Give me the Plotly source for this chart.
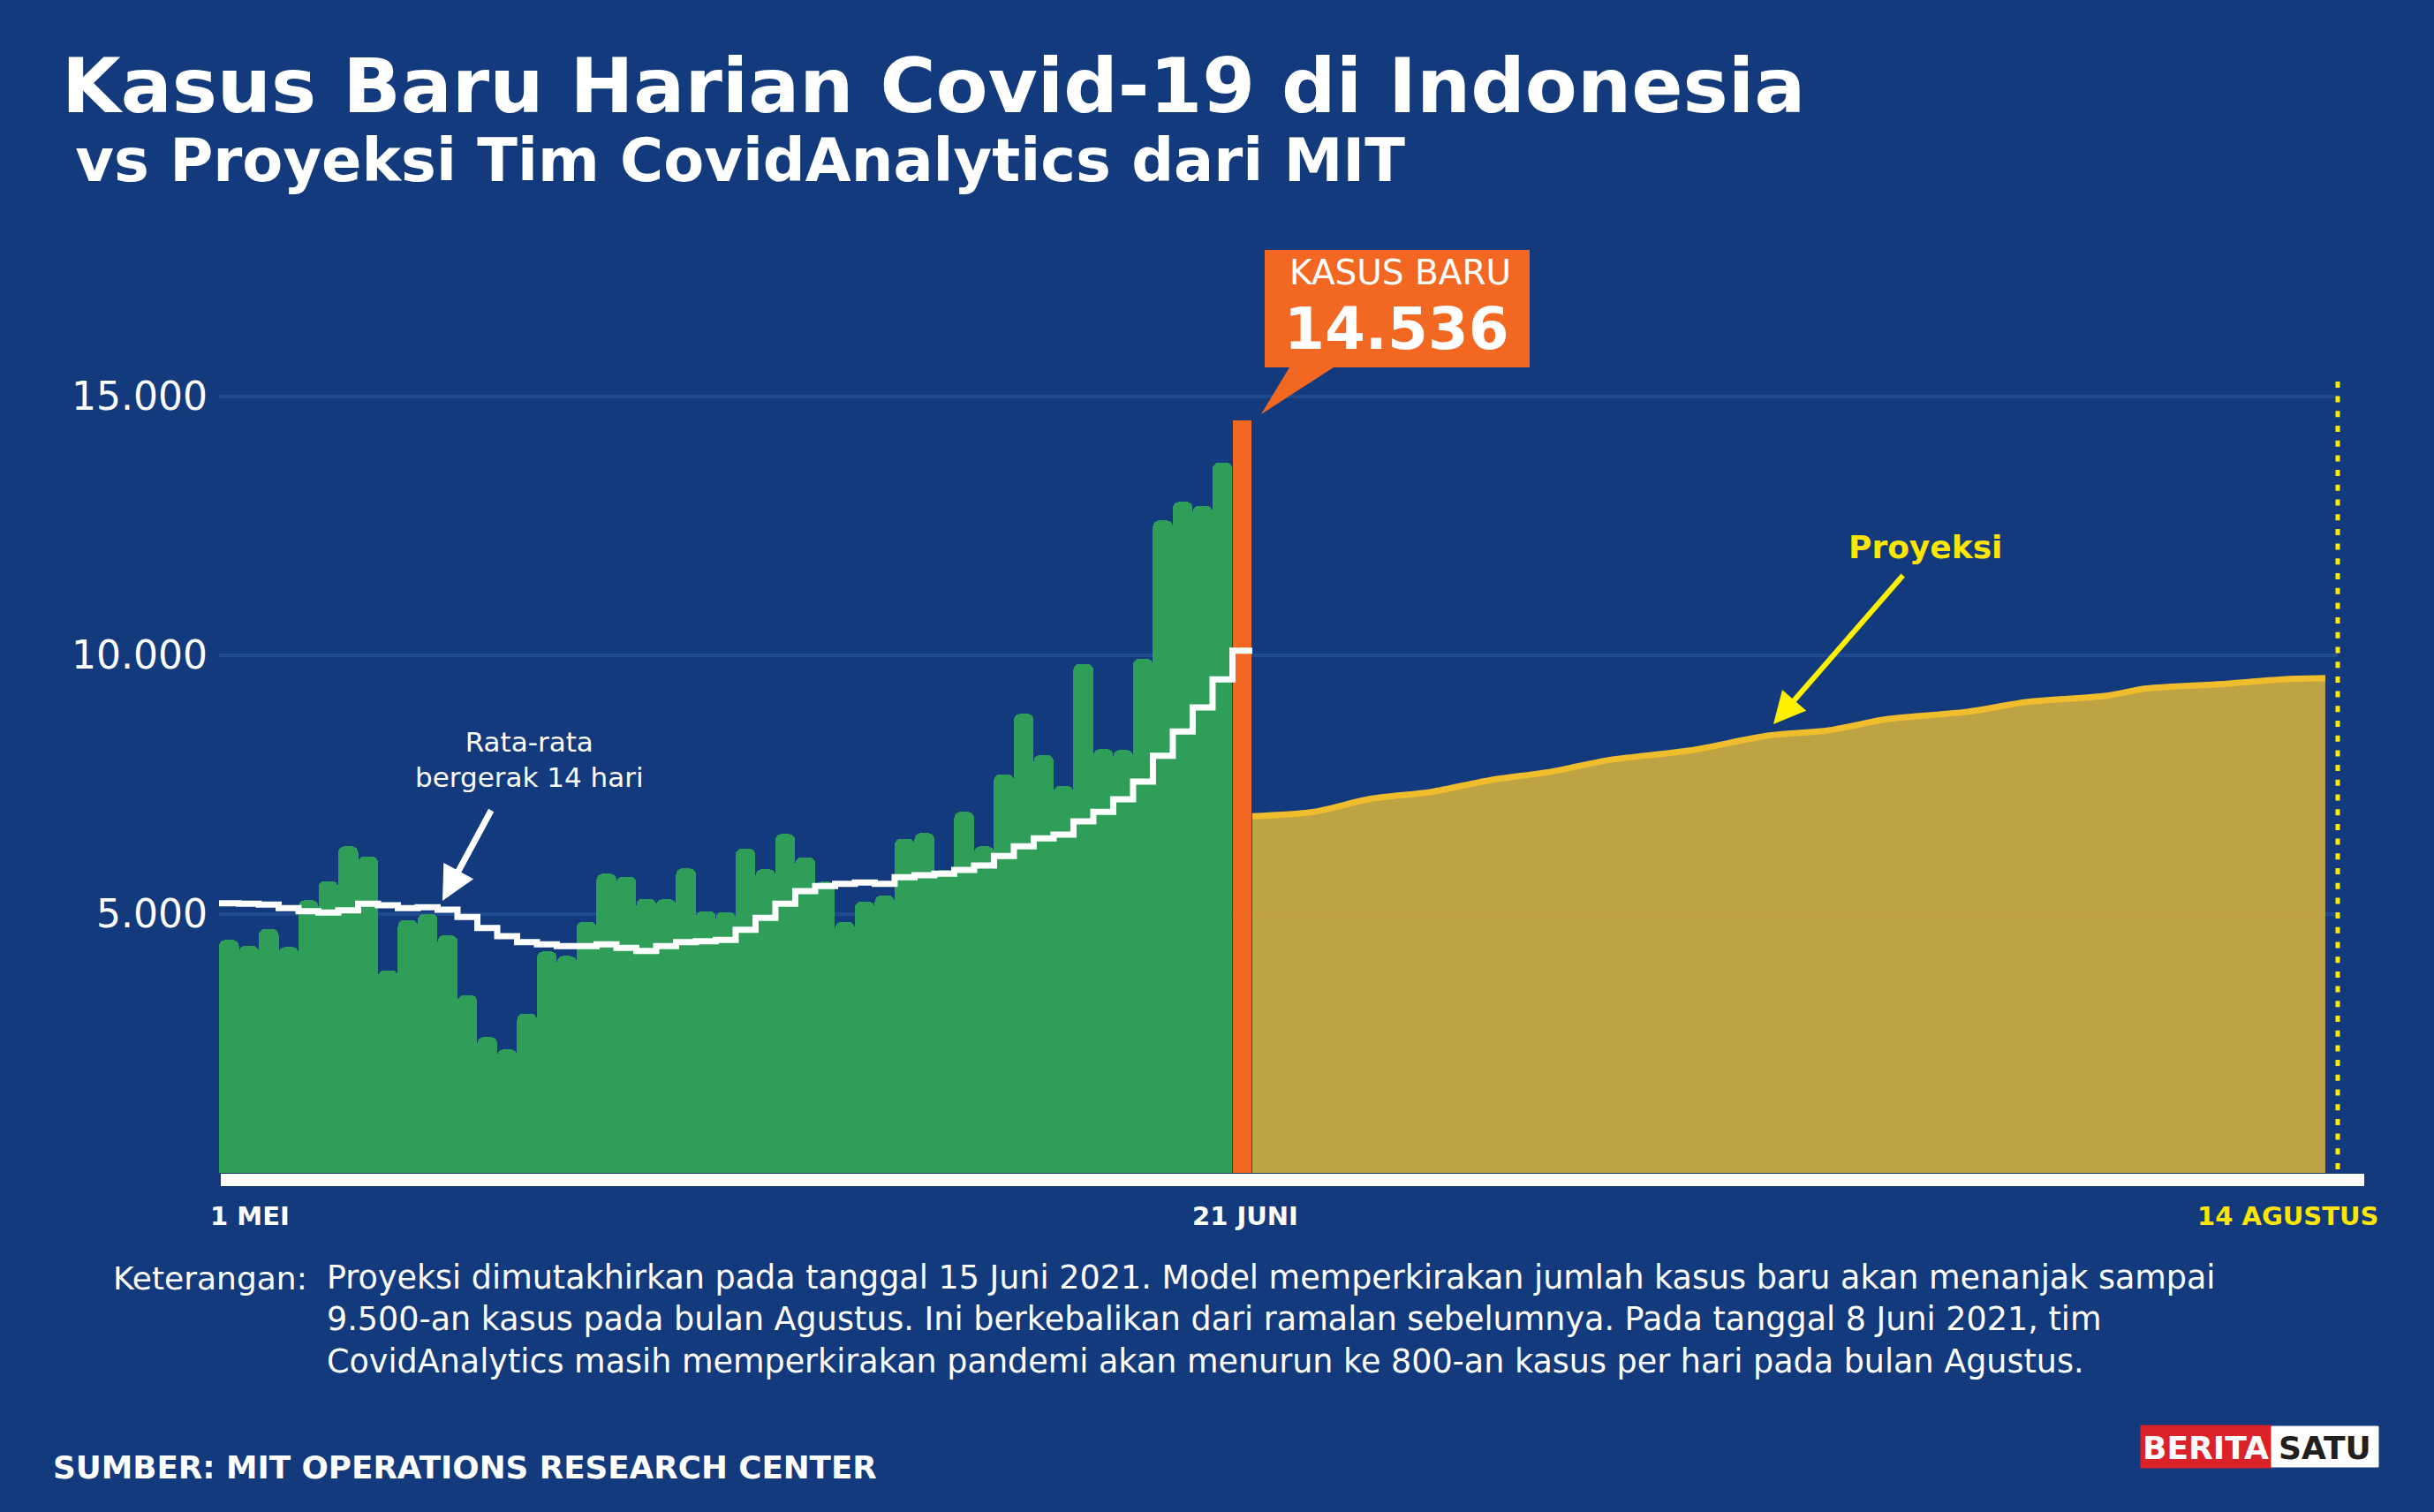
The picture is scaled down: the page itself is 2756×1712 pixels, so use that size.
import pandas as pd
import plotly.graph_objects as go

# ---------------- data ----------------
daily_dates = pd.date_range("2021-05-01", "2021-06-20", freq="D")
daily_cases = [4500, 4386, 4710, 4363, 5268, 5637, 6309, 6115, 3913, 4886,
               5005, 4590, 3430, 2623, 2384, 3077, 4278, 4190, 4852, 5780,
               5723, 5296, 5285, 5882, 5057, 5040, 6263, 5865, 6547, 6098,
               5626, 4846, 5239, 5358, 6455, 6565, 5853, 6974, 6309, 7702,
               8869, 8072, 7475, 9835, 8186, 8169, 9932, 12606, 12964, 12890,
               13720]
latest_date = "2021-06-21"
latest_cases = 14536

ma_dates = pd.date_range("2021-05-01", "2021-06-21", freq="D")
moving_avg = [5211, 5199, 5182, 5114, 5057, 5029, 5074, 5199, 5171, 5114,
              5131, 5085, 4943, 4733, 4574, 4460, 4415, 4380, 4380, 4415,
              4347, 4289, 4380, 4460, 4477, 4500, 4699, 4927, 5199, 5444,
              5540, 5586, 5609, 5586, 5711, 5751, 5780, 5853, 5939, 6121,
              6309, 6462, 6536, 6792, 6974, 7218, 7560, 8060, 8527, 8993,
              9534, 10090]

proj_dates = ["2021-06-22", "2021-06-25", "2021-06-28", "2021-07-01", "2021-07-04",
              "2021-07-07", "2021-07-10", "2021-07-14", "2021-07-18", "2021-07-21",
              "2021-07-24", "2021-07-28", "2021-07-31", "2021-08-04", "2021-08-06",
              "2021-08-10", "2021-08-13", "2021-08-15"]
proj_values = [6890, 6970, 7230, 7360, 7590, 7750, 7980, 8160, 8450, 8550,
               8770, 8910, 9100, 9220, 9360, 9450, 9540, 9560]

y_tickvals = [5000, 10000, 15000]
y_ticktext = ["5.000", "10.000", "15.000"]

# ---------------- style ----------------
W, H = 2756, 1712
L, R, T, B = 248, 2647, 361, 1346
PW, PH = R - L, B - T
NAVY = "#133a7c"
GRID = "#1f4a8f"
GREEN = "#2e9e58"
ORANGE = "#f26822"
GOLD_FILL = "rgba(196,166,66,0.97)"
GOLD_LINE = "#f0be2d"
YELLOW = "#ffe600"
FONT = "DejaVu Sans"
DAY_MS = 86400000


def px(x):
    return (x - L) / PW


def py(y):
    return (B - y) / PH


fig = go.Figure()

fig.add_trace(go.Bar(
    x=daily_dates, y=daily_cases, xperiod=DAY_MS, xperiodalignment="middle",
    width=DAY_MS, marker=dict(color=GREEN, line=dict(width=0), cornerradius=7),
    hoverinfo="skip"))

fig.add_trace(go.Bar(
    x=[latest_date], y=[latest_cases], xperiod=DAY_MS, xperiodalignment="middle",
    width=DAY_MS * 0.93, marker=dict(color=ORANGE, line=dict(width=0)),
    hoverinfo="skip"))

fig.add_trace(go.Scatter(
    x=proj_dates, y=proj_values, mode="lines", fill="tozeroy",
    fillcolor=GOLD_FILL, line=dict(color=GOLD_LINE, width=7, shape="spline", smoothing=0.8),
    hoverinfo="skip"))

# moving average as step line spanning each day slot
ma_x = list(ma_dates) + [ma_dates[-1] + pd.Timedelta(days=1)]
ma_y = moving_avg + [moving_avg[-1]]
fig.add_trace(go.Scatter(
    x=ma_x, y=ma_y, mode="lines", line=dict(color="white", width=7, shape="hv"),
    hoverinfo="skip"))

shapes = []
# white baseline
shapes.append(dict(type="rect", xref="paper", yref="paper",
                   x0=px(250), x1=px(2677), y0=py(1343), y1=py(1329),
                   fillcolor="white", line=dict(width=0), layer="above"))
# dotted end line
shapes.append(dict(type="line", xref="paper", yref="paper",
                   x0=px(2647), x1=px(2647), y0=py(1324), y1=py(432),
                   line=dict(color="#ffeb00", width=5, dash="7px,9.7px"), layer="above"))
# orange callout
cx0, cx1, cy0, cy1 = 1432, 1732, 283, 416
path = (f"M {px(cx0)},{py(cy0)} L {px(cx1)},{py(cy0)} L {px(cx1)},{py(cy1)} "
        f"L {px(1510)},{py(cy1)} L {px(1428)},{py(469)} L {px(1460)},{py(cy1)} "
        f"L {px(cx0)},{py(cy1)} Z")
shapes.append(dict(type="path", xref="paper", yref="paper", path=path,
                   fillcolor=ORANGE, line=dict(width=0), layer="above"))
# logo
shapes.append(dict(type="rect", xref="paper", yref="paper",
                   x0=px(2424), x1=px(2572), y0=py(1662), y1=py(1614),
                   fillcolor="#dc2229", line=dict(color="#dc2229", width=1)))
shapes.append(dict(type="rect", xref="paper", yref="paper",
                   x0=px(2572), x1=px(2693), y0=py(1661), y1=py(1615),
                   fillcolor="white", line=dict(color="white", width=1)))

ann = []


def text(t, x, y, size, color="white", bold=False, xanchor="left", yanchor="middle", align="left"):
    s = f"<b>{t}</b>" if bold else t
    ann.append(dict(text=s, x=px(x), y=py(y), xref="paper", yref="paper",
                    showarrow=False, xanchor=xanchor, yanchor=yanchor, align=align,
                    font=dict(family=FONT, size=size, color=color)))


text("Kasus Baru Harian Covid-19 di Indonesia", 68, 97, 86, bold=True)
text(" vs Proyeksi Tim CovidAnalytics dari MIT", 60, 182, 67, bold=True)

text("1 MEI", 236, 1377, 29, bold=True)
text("21 JUNI", 1410, 1377, 29, bold=True, xanchor="center")
text("14 AGUSTUS", 2695, 1377, 29, color=YELLOW, bold=True, xanchor="right")

text("KASUS BARU", 1585, 308, 39, xanchor="center")
text("14.536", 1581, 372, 66, bold=True, xanchor="center")

text("Rata-rata<br>bergerak 14 hari", 599, 860, 31, xanchor="center", align="center")

text("Proyeksi", 2180, 619, 36, color=YELLOW, bold=True, xanchor="center")

text("Keterangan:", 126, 1447, 36)
text("Proyeksi dimutakhirkan pada tanggal 15 Juni 2021. Model memperkirakan jumlah kasus baru akan menanjak sampai<br>"
     "9.500-an kasus pada bulan Agustus. Ini berkebalikan dari ramalan sebelumnya. Pada tanggal 8 Juni 2021, tim<br>"
     "CovidAnalytics masih memperkirakan pandemi akan menurun ke 800-an kasus per hari pada bulan Agustus.",
     368, 1494, 36.5)

text("SUMBER: MIT OPERATIONS RESEARCH CENTER", 58, 1661, 35.7, bold=True)

text("BERITA", 2497, 1639, 36, bold=True, xanchor="center")
text("SATU", 2632, 1639, 36, color="#231f20", bold=True, xanchor="center")

# arrows
ann.append(dict(text="", x=px(501), y=py(1020), xref="paper", yref="paper",
                ax=56, ay=-104, axref="pixel", ayref="pixel", showarrow=True,
                arrowhead=2, arrowsize=1.1, arrowwidth=7, arrowcolor="white", standoff=0))
ann.append(dict(text="", x=px(2008), y=py(820), xref="paper", yref="paper",
                ax=148, ay=-170, axref="pixel", ayref="pixel", showarrow=True,
                arrowhead=2, arrowsize=1.2, arrowwidth=6, arrowcolor="#fff200", standoff=0))

y_per_px = 5000 / 293
fig.update_layout(
    width=W, height=H, autosize=False,
    margin=dict(l=L, r=W - R, t=T, b=H - B, pad=0),
    paper_bgcolor=NAVY, plot_bgcolor=NAVY,
    barmode="overlay", bargap=0, showlegend=False,
    shapes=shapes, annotations=ann,
    xaxis=dict(type="date", range=["2021-05-01", "2021-08-15 15:00"],
               showgrid=False, zeroline=False, showticklabels=False, showline=False,
               fixedrange=True),
    yaxis=dict(range=[-(B - 1328) * y_per_px, (1328 - T) * y_per_px],
               tickvals=y_tickvals, ticktext=y_ticktext, showgrid=True,
               gridcolor=GRID, gridwidth=4, zeroline=False, showline=False,
               ticks="", ticklabelstandoff=12,
               tickfont=dict(family=FONT, size=44, color="white"), fixedrange=True),
)

fig.write_html("out.html",
               config={"displayModeBar": False, "staticPlot": True},
               post_script="document.body.style.margin='0';"
                           "document.body.style.background='#133a7c';")
